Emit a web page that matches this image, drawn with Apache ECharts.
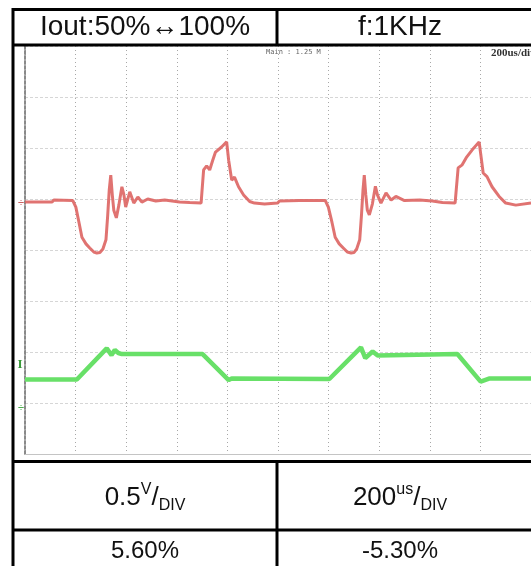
<!DOCTYPE html>
<html>
<head>
<meta charset="utf-8">
<script src="https://cdn.jsdelivr.net/npm/echarts@6/dist/echarts.min.js"></script>
<style>
html,body{margin:0;padding:0;background:#fff;}
#c{width:531px;height:566px;}
</style>
</head>
<body>
<div id="c"></div>
<script>
// time in microseconds (200 us/div), value in divisions (scope graticule -4..4)
const timeAxis = [0, 2000];
const divAxis = [-4, 4];
const redT = [0,107,114,189,201,213,225,241,256,272,284,296,308,320,327,333,339,345,351,361,371,383,391,398,414,430,446,462,485,517,552,611,651,696,706,718,730,742,753,777,797,805,817,828,844,864,888,907,947,998,
  1006,1085,1187,1199,1213,1226,1242,1258,1274,1289,1300,1311,1323,1330,1336,1341,1347,1353,1361,1373,1385,1393,1407,1427,1447,1466,1500,1560,1610,1650,1700,1712,1728,1744,1767,1795,1811,1826,1846,1874,1900,1940,2000];
const redV = [0.94,0.94,0.98,0.97,0.84,0.55,0.25,0.12,0.04,-0.04,-0.06,-0.05,0.02,0.2,0.69,1.18,1.47,1.08,0.78,0.63,0.88,1.24,1.08,0.84,1.14,0.92,1.04,0.94,1.0,0.96,0.98,0.94,0.93,0.92,1.57,1.65,1.57,1.76,1.92,2.02,2.12,1.76,1.37,1.43,1.24,1.08,0.95,0.92,0.9,0.92,
  0.96,0.97,0.97,0.84,0.55,0.25,0.12,0.04,-0.04,-0.06,-0.05,0.02,0.2,0.69,1.18,1.47,1.08,0.78,0.69,0.9,1.25,1.08,0.92,1.12,0.98,1.05,0.97,0.98,0.96,0.93,0.92,1.61,1.67,1.81,1.96,2.12,1.51,1.44,1.24,1.05,0.92,0.88,0.92];
const greenT = [0,205,323,342,355,369,383,702,805,817,1203,1328,1345,1374,1394,1400,1709,1801,1834,2000];
const greenV = [-2.54,-2.54,-1.93,-2.06,-1.96,-2.02,-2.04,-2.04,-2.55,-2.52,-2.53,-1.91,-2.12,-1.99,-2.07,-2.04,-2.04,-2.58,-2.52,-2.52];
const headerLabels = ['Iout:50%\u2194100%', 'f:1KHz'];
const scaleLabels = ['0.5', 'V', 'DIV', '200', 'us', 'DIV'];
const resultLabels = ['5.60%', '-5.30%'];
const scopeLabels = ['Main : 1.25 M', '200us/div'];

const redData = redT.map((t, i) => [t, redV[i]]);
const greenData = greenT.map((t, i) => [t, greenV[i]]);

const chart = echarts.init(document.getElementById('c'), null, {renderer: 'canvas'});
const font = 'Liberation Sans, Arial, Helvetica, sans-serif';
const black = '#000';
const bw = 3;

function hline(y, x1, x2) {
  return {type: 'line', shape: {x1: x1, y1: y, x2: x2, y2: y}, style: {stroke: black, lineWidth: bw}, z: 100};
}
function vline(x, y1, y2) {
  return {type: 'line', shape: {x1: x, y1: y1, x2: x, y2: y2}, style: {stroke: black, lineWidth: bw}, z: 100};
}
function cellText(x, y, txt, size) {
  return {type: 'text', x: x, y: y, z: 110,
    style: {text: txt, font: size + 'px ' + font, fill: '#111', align: 'center', verticalAlign: 'middle'}};
}
function fracText(x, y, big, sup, sub) {
  return {type: 'text', x: x, y: y, z: 110,
    style: {
      text: '{b|' + big + '}{s|' + sup + '}{b|/}{d|' + sub + '}',
      align: 'center', verticalAlign: 'middle',
      fill: '#111',
      rich: {
        b: {fontSize: 26, fontFamily: font, lineHeight: 32, verticalAlign: 'middle', fill: '#111'},
        s: {fontSize: 16, fontFamily: font, lineHeight: 32, verticalAlign: 'top', padding: [0,0,14,0], fill: '#111'},
        d: {fontSize: 16, fontFamily: font, lineHeight: 32, verticalAlign: 'bottom', padding: [12,0,0,0], fill: '#111'}
      }
    }};
}

const option = {
  backgroundColor: '#fff',
  animation: false,
  grid: {left: 25, top: 46, width: 507, height: 408, show: false},
  xAxis: {
    type: 'value', min: timeAxis[0], max: timeAxis[1], interval: 200,
    axisLine: {show: true, onZero: false, lineStyle: {color: '#c4c4c4', width: 1}},
    axisTick: {show: false}, axisLabel: {show: false},
    splitLine: {show: true, lineStyle: {color: '#a8a8a8', width: 1, type: [1, 3]}}
  },
  yAxis: {
    type: 'value', min: divAxis[0], max: divAxis[1], interval: 1,
    axisLine: {show: true, onZero: false, lineStyle: {color: '#8a8a8a', width: 2, type: [3, 2]}},
    axisTick: {show: false}, axisLabel: {show: false},
    splitLine: {show: true, lineStyle: {color: '#d6d6d6', width: 1, type: [3, 2]}}
  },
  series: [
    {type: 'line', data: redData, showSymbol: false, symbol: 'none', z: 5,
      lineStyle: {color: '#dd6462', width: 3, opacity: 0.9}},
    {type: 'line', data: greenData, showSymbol: false, symbol: 'none', z: 6,
      lineStyle: {color: '#68e068', width: 4.5}}
  ],
  graphic: [
    // table frame
    hline(9.5, 12, 540), hline(45, 12, 540), hline(461.5, 12, 540), hline(530, 12, 540),
    vline(13, 8, 566), vline(277, 8, 45), vline(277, 460, 566),
    // header texts
    cellText(145, 27, headerLabels[0], 28),
    cellText(400, 27, headerLabels[1], 28),
    // scale texts
    fracText(145, 498, scaleLabels[0], scaleLabels[1], scaleLabels[2]),
    fracText(400, 498, scaleLabels[3], scaleLabels[4], scaleLabels[5]),
    // results
    cellText(145, 551, resultLabels[0], 24),
    cellText(400, 551, resultLabels[1], 24),
    // scope annotations
    {type: 'text', x: 266, y: 52, z: 50, style: {text: scopeLabels[0], font: '7px DejaVu Sans Mono, monospace', fill: '#666', verticalAlign: 'middle'}},
    {type: 'text', x: 491, y: 53, z: 50, style: {text: scopeLabels[1], font: 'bold 11px Liberation Serif, serif', fill: '#333', verticalAlign: 'middle'}},
    // channel markers
    {type: 'text', x: 21, y: 203, z: 50, style: {text: '\u00f7', font: '11px ' + font, fill: '#c96060', align: 'center', verticalAlign: 'middle'}},
    {type: 'text', x: 20, y: 365, z: 50, style: {text: 'I', font: 'bold 13px Liberation Serif, serif', fill: '#3a9a3a', align: 'center', verticalAlign: 'middle'}},
    {type: 'text', x: 21, y: 408, z: 50, style: {text: '\u00f7', font: '11px ' + font, fill: '#4caf4c', align: 'center', verticalAlign: 'middle'}}
  ]
};
chart.setOption(option);
</script>
</body>
</html>
